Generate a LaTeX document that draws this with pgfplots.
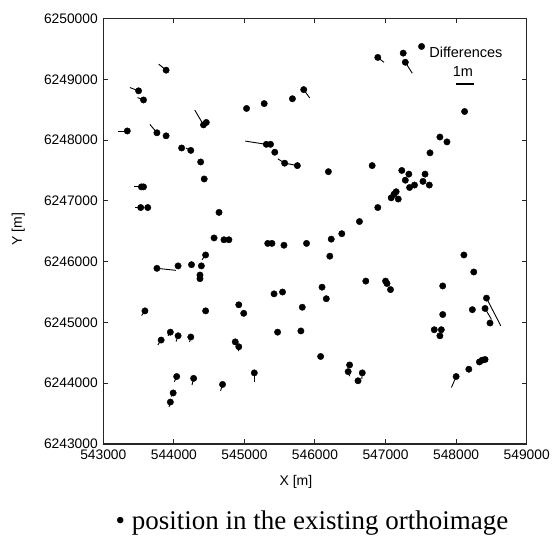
\documentclass[border=0pt]{standalone}
\usepackage{fontspec}
\setmainfont{Liberation Sans}
\newfontfamily\capfont{Liberation Serif}
\usepackage{pgfplots}
\pgfplotsset{compat=1.18}
\usepackage{pgfplotstable}

% x y = position in the existing orthoimage, u v = drawn difference vector (data units)
\pgfplotstableread{
x y u v
543890 6249150 -104 99
543500 6248810 -123 54
543570 6248660 -85 39
544420 6248250 -123 242
544460 6248290 0 0
543340 6248150 -128 0
543760 6248120 -99 137
543890 6248070 0 0
544110 6247870 0 0
544240 6247830 -67 38
544380 6247640 0 0
544430 6247360 0 0
543540 6247230 -108 0
543570 6247230 0 0
543530 6246890 -81 0
543630 6246890 0 0
544640 6246810 0 0
545030 6248520 0 0
545280 6248600 0 0
545680 6248680 0 0
545840 6248830 85 -137
546890 6249360 89 -82
545310 6247930 -298 53
545370 6247930 0 0
545430 6247800 0 0
545570 6247620 -96 71
545750 6247580 -179 41
546190 6247480 0 0
546810 6247580 0 0
546890 6246890 0 0
546630 6246660 0 0
547250 6249430 0 0
547280 6249280 99 -181
547510 6249540 0 0
548120 6248470 0 0
547770 6248050 0 0
547870 6247970 0 0
547630 6247790 0 0
547230 6247500 0 0
547330 6247440 0 0
547560 6247440 0 0
547280 6247340 0 0
547340 6247220 0 0
547410 6247260 0 0
547530 6247320 0 0
547620 6247260 0 0
547080 6247050 0 0
547120 6247110 0 0
547150 6247150 0 0
547180 6247030 0 0
544570 6246390 0 0
544710 6246360 0 0
544780 6246360 0 0
544450 6246110 -50 -77
543760 6245890 270 -33
544060 6245930 0 0
544250 6245950 0 0
544390 6245930 0 0
544370 6245780 0 0
544370 6245720 0 0
543590 6245190 -47 -77
544450 6245190 0 0
544920 6245290 14 -33
544990 6245150 0 -41
543950 6244840 -33 -61
543820 6244710 -47 -82
544060 6244780 -28 -94
544240 6244760 -18 -82
544870 6244680 14 -49
544920 6244600 -4 -74
544040 6244110 -33 -87
544280 6244080 -23 -110
544690 6243980 -28 -105
543990 6243840 -28 -59
543950 6243690 -18 -82
545330 6246300 0 0
545390 6246300 0 0
545560 6246270 0 0
545880 6246300 0 0
546230 6246370 0 0
546380 6246460 0 0
546210 6246090 0 0
546720 6245680 0 0
547000 6245680 0 0
547020 6245640 0 0
547070 6245540 0 0
546100 6245580 0 0
545420 6245470 0 -41
545540 6245500 0 -41
546160 6245390 0 0
545820 6245250 -28 0
545470 6244840 0 0
545800 6244860 0 0
546080 6244440 14 -25
545140 6244170 0 -143
546490 6244300 0 0
546470 6244190 21 -74
546670 6244170 -7 -99
546610 6244040 14 -25
548110 6246110 0 0
548250 6245830 0 0
547810 6245600 0 0
548430 6245400 203 -456
548230 6245210 0 0
548410 6245230 91 -181
548480 6244990 0 0
547810 6245130 0 0
547690 6244880 0 0
547790 6244880 28 -16
547770 6244780 0 0
548180 6244230 0 0
548330 6244350 0 0
548370 6244380 0 0
548410 6244390 38 -25
548000 6244110 -67 -181
}\points

\begin{document}
\begin{tikzpicture}
\begin{axis}[
    scale only axis,
    width=423.4pt, height=425.5pt,
    xmin=543000, xmax=549000,
    ymin=6243000, ymax=6250000,
    xtick={543000,544000,545000,546000,547000,548000,549000},
    ytick={6243000,6244000,6245000,6246000,6247000,6248000,6249000,6250000},
    scaled ticks=false,
    tick align=inside,
    major tick length=5pt,
    axis line style={black!85, line width=1.2pt},
    tick style={black!85, line width=1pt},
    /pgf/number format/.cd, fixed, precision=0, 1000 sep={}, assume math mode=true,
    /pgfplots/.cd,
    tick label style={font=\fontsize{13.8}{15}\selectfont, black},
    yticklabel style={xshift=-2pt},
    xticklabel style={yshift=-2pt},
    xlabel={X [m]}, ylabel={Y [m]},
    every axis x label/.style={at={(axis description cs:0.455,-0.089)}, anchor=center,
        font=\fontsize{14}{16}\selectfont},
    every axis y label/.style={at={(axis description cs:-0.201,0.505)}, anchor=center, rotate=90,
        font=\fontsize{14}{16}\selectfont},
    clip=false,
]
    % difference vectors
    \addplot[black, line width=0.9pt,
        quiver={u=\thisrow{u}, v=\thisrow{v}}] table[x=x, y=y] {\points};
    % positions
    \addplot[only marks, mark=*, mark size=3.2pt, black] table[x=x, y=y] {\points};
    % scale bar
    \addplot[black, line width=2.2pt] coordinates {(548004,6248923) (548250,6248923)};
    \node[font=\fontsize{14.5}{16}\selectfont] at (axis cs:548139,6249437) {Differences};
    \node[font=\fontsize{14.5}{16}\selectfont] at (axis cs:548096,6249120) {1m};
\end{axis}
\node[font=\capfont\fontsize{27}{30}\selectfont] at ([shift={(208.7pt,-79pt)}]current axis.south west)
    {• position in the existing orthoimage};
\path ([shift={(-103.3pt,-105pt)}]current axis.south west) rectangle ++(554pt,549pt);
\end{tikzpicture}
\end{document}
